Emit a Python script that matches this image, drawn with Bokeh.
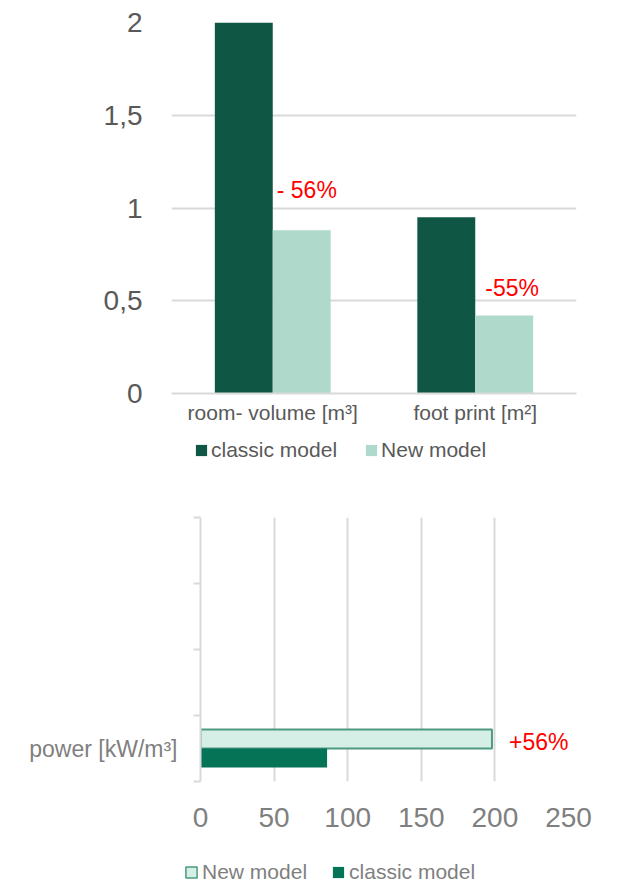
from bokeh.plotting import figure
from bokeh.models import (ColumnDataSource, FactorRange, Range1d, FixedTicker,
                          Legend, LegendItem)
from bokeh.transform import dodge
from bokeh.layouts import column
from bokeh.embed import file_html
from bokeh.resources import INLINE
from bokeh.core.properties import value

# ---------------- data: top chart ----------------
categories = ["room- volume [m³]", "foot print [m²]"]
classic_model = [2.0, 0.95]
new_model = [0.88, 0.42]
change_labels = ["- 56%", "-55%"]
y_ticks = [0, 0.5, 1, 1.5, 2]
y_tick_labels = ["0", "0,5", "1", "1,5", "2"]

# ---------------- data: bottom chart ----------------
power_categories = ["power [kW/m³]"]
power_new = [198]
power_classic = [86]
power_labels = ["+56%"]
x_ticks = [0, 50, 100, 150, 200, 250]
axis_slots = 4  # Excel category axis shows 4 slots, only the first is used

FONT = "Liberation Sans"
GRID = "#d9d9d9"
TOP_CLASSIC = "#0F5744"
TOP_NEW = "#AED9CB"
BOT_CLASSIC = "#047356"
BOT_NEW_FILL = "#D6EFE6"
BOT_NEW_LINE = "#4E9A81"
W = 618
NAN = float("nan")


def legend_figure(height, entries, loc, standoff, spacing, color):
    lf = figure(width=W, height=height, x_range=Range1d(0, 1), y_range=Range1d(0, 1),
                output_backend="svg", toolbar_location=None,
                x_axis_location=None, y_axis_location=None,
                min_border_left=0, min_border_right=0, min_border_top=0,
                min_border_bottom=0, frame_align=False)
    lf.outline_line_color = None
    lf.grid.grid_line_color = None
    items = []
    for label, fill, line in entries:
        # legend proxy: a single undefined (NaN) bar, nothing is drawn in the frame
        r = lf.vbar(x=[NAN], top=[NAN], width=0.1, fill_color=fill,
                    line_color=line if line else None,
                    line_width=1.5 if line else 0)
        items.append(LegendItem(label=label, renderers=[r]))
    leg = Legend(items=items, orientation="horizontal", location=loc,
                 glyph_width=14, glyph_height=14, label_standoff=standoff,
                 spacing=spacing, padding=0, margin=0, border_line_color=None,
                 background_fill_alpha=0, label_text_font=FONT,
                 label_text_font_size="21px", label_text_color=color)
    lf.add_layout(leg, "center")
    return lf


# ================= top figure =================
p1 = figure(x_range=FactorRange(factors=categories, range_padding=0),
            y_range=Range1d(0, 2), width=W, height=432,
            output_backend="svg", toolbar_location=None,
            min_border_left=171, min_border_right=42,
            min_border_top=22, min_border_bottom=39, frame_align=False)
p1.outline_line_color = None

src1 = ColumnDataSource(dict(cat=categories, classic=classic_model, new=new_model,
                             label=change_labels, lx=[4, 10], ly=[-40, -28]))
p1.vbar(x=dodge("cat", -0.143, range=p1.x_range), top="classic", width=0.286,
        source=src1, fill_color=TOP_CLASSIC, line_color=None)
p1.vbar(x=dodge("cat", 0.143, range=p1.x_range), top="new", width=0.286,
        source=src1, fill_color=TOP_NEW, line_color=None)
p1.text(x=dodge("cat", 0.0, range=p1.x_range), y="new", text="label",
        x_offset="lx", y_offset="ly", source=src1,
        text_font=value(FONT), text_font_size="23px", text_color="#FF0000",
        text_align="left", text_baseline="middle")

p1.xgrid.grid_line_color = None
p1.ygrid.ticker = FixedTicker(ticks=y_ticks)
p1.ygrid.grid_line_color = GRID
p1.ygrid.grid_line_width = 2

p1.yaxis.ticker = FixedTicker(ticks=y_ticks)
p1.yaxis.major_label_overrides = dict(zip(y_ticks, y_tick_labels))
p1.yaxis.axis_line_color = None
p1.yaxis.major_tick_line_color = None
p1.yaxis.minor_tick_line_color = None
p1.yaxis.major_tick_out = 0
p1.yaxis.major_tick_in = 0
p1.yaxis.major_label_standoff = 29
p1.yaxis.major_label_text_font = FONT
p1.yaxis.major_label_text_font_size = "28px"
p1.yaxis.major_label_text_color = "#595959"

p1.xaxis.axis_line_color = GRID
p1.xaxis.axis_line_width = 2
p1.xaxis.major_tick_line_color = None
p1.xaxis.major_tick_out = 0
p1.xaxis.major_tick_in = 0
p1.xaxis.major_label_standoff = 7
p1.xaxis.major_label_text_font = FONT
p1.xaxis.major_label_text_font_size = "21px"
p1.xaxis.major_label_text_color = "#595959"

leg1_fig = legend_figure(36, [("classic model", TOP_CLASSIC, None),
                              ("New model", TOP_NEW, None)],
                         (194, 6), 3, 27, "#595959")

# ================= bottom figure =================
p2 = figure(x_range=Range1d(0, 250), y_range=Range1d(0, axis_slots),
            width=W, height=380,
            output_backend="svg", toolbar_location=None,
            min_border_left=200, min_border_right=50,
            min_border_top=49, min_border_bottom=67, frame_align=False)
p2.outline_line_color = None

slot_centers = [i + 0.5 for i in range(len(power_categories))]
src2 = ColumnDataSource(dict(slot=slot_centers, new=power_new, classic=power_classic,
                             label=power_labels))
p2.hbar(y=dodge("slot", 0.144), right="new", left=0, height=0.288, source=src2,
        fill_color=BOT_NEW_FILL, line_color=BOT_NEW_LINE, line_width=2)
p2.hbar(y=dodge("slot", -0.144), right="classic", left=0, height=0.288,
        source=src2, fill_color=BOT_CLASSIC, line_color=None)
p2.text(x="new", y=dodge("slot", 0.144), text="label", source=src2,
        x_offset=17, y_offset=3,
        text_font=value(FONT), text_font_size="23px", text_color="#FF0000",
        text_align="left", text_baseline="middle")

p2.ygrid.grid_line_color = None
p2.xgrid.ticker = FixedTicker(ticks=x_ticks)
p2.xgrid.grid_line_color = GRID
p2.xgrid.grid_line_width = 2

p2.xaxis.ticker = FixedTicker(ticks=x_ticks)
p2.xaxis.axis_line_color = None
p2.xaxis.major_tick_line_color = None
p2.xaxis.minor_tick_line_color = None
p2.xaxis.major_tick_out = 0
p2.xaxis.major_tick_in = 0
p2.xaxis.major_label_standoff = 26
p2.xaxis.major_label_text_font = FONT
p2.xaxis.major_label_text_font_size = "28px"
p2.xaxis.major_label_text_color = "#7F7F7F"

p2.yaxis.ticker = FixedTicker(ticks=slot_centers,
                              minor_ticks=list(range(axis_slots + 1)))
p2.yaxis.major_label_overrides = dict(zip(slot_centers, power_categories))
p2.yaxis.axis_line_color = GRID
p2.yaxis.axis_line_width = 2
p2.yaxis.major_tick_line_color = None
p2.yaxis.major_tick_out = 0
p2.yaxis.major_tick_in = 0
p2.yaxis.minor_tick_line_color = GRID
p2.yaxis.minor_tick_line_width = 2
p2.yaxis.minor_tick_out = 7
p2.yaxis.minor_tick_in = 0
p2.yaxis.major_label_standoff = 16
p2.yaxis.major_label_text_font = FONT
p2.yaxis.major_label_text_font_size = "23px"
p2.yaxis.major_label_text_color = "#7F7F7F"

leg2_fig = legend_figure(36, [("New model", BOT_NEW_FILL, BOT_NEW_LINE),
                              ("classic model", BOT_CLASSIC, None)],
                         (184, 0), 4, 24, "#7F7F7F")

layout = column(p1, leg1_fig, p2, leg2_fig, spacing=0)
open("out.html", "w").write(file_html(layout, INLINE))
